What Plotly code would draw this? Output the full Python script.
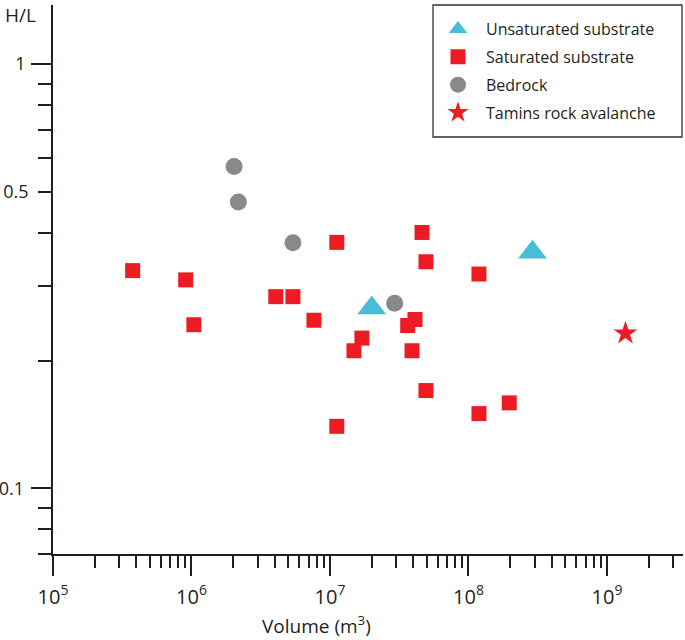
import plotly.graph_objects as go

# ---- data ----
unsat_vol = [2.0e7, 2.9e8]
unsat_hl = [0.266, 0.360]

sat_vol = [3.76e5, 9.08e5, 1.04e6, 4.06e6, 5.4e6, 7.66e6, 1.12e7, 1.12e7, 1.49e7,
           1.70e7, 3.64e7, 4.11e7, 3.91e7, 4.62e7, 4.93e7, 4.93e7, 1.19e8, 1.19e8, 1.97e8]
sat_hl = [0.326, 0.310, 0.243, 0.283, 0.283, 0.249, 0.380, 0.140, 0.211,
          0.226, 0.242, 0.250, 0.211, 0.401, 0.342, 0.170, 0.320, 0.150, 0.159]

bed_vol = [2.03e6, 2.18e6, 5.4e6, 2.93e7]
bed_hl = [0.574, 0.473, 0.379, 0.273]

tamins_vol = [1.36e9]
tamins_hl = [0.232]

x_major = [1e5, 1e6, 1e7, 1e8, 1e9]
x_labels = ["10<sup>5</sup>", "10<sup>6</sup>", "10<sup>7</sup>", "10<sup>8</sup>", "10<sup>9</sup>"]
y_ticks = [0.07, 0.08, 0.09, 0.1, 0.2, 0.3, 0.4, 0.5, 0.6, 0.7, 0.8, 0.9, 1.0]
y_labels = ["", "", "", "0.1\u2005", "", "", "", "0.5", "", "", "", "", "1\u2009"]
y_long = [0.1, 1.0]

RED = "#ED1C24"
BLUE = "#47BED6"
GRAY = "#898989"
INK = "#231F20"
FONT = "Open Sans"

x_minor = [m * 10 ** e for e in range(5, 10) for m in range(2, 10) if m * 10 ** e < 3.6e9]

fig = go.Figure()
fig.add_trace(go.Scatter(x=unsat_vol, y=unsat_hl, mode="markers", name="Unsaturated substrate",
                         legendgroup="a",
                         marker=dict(symbol="triangle-up", size=25, color=BLUE)))
fig.add_trace(go.Scatter(x=sat_vol, y=sat_hl, mode="markers", name="Saturated substrate",
                         legendgroup="b",
                         marker=dict(symbol="square", size=15, color=RED)))
fig.add_trace(go.Scatter(x=bed_vol, y=bed_hl, mode="markers", name="Bedrock",
                         legendgroup="c",
                         marker=dict(symbol="circle", size=17, color=GRAY)))
fig.add_trace(go.Scatter(x=tamins_vol, y=tamins_hl, mode="markers", name="Tamins rock avalanche",
                         legendgroup="d",
                         marker=dict(symbol="star", size=18, color=RED)))

fig.update_layout(
    width=685, height=640,
    margin=dict(l=53, r=2, t=5, b=86, autoexpand=False),
    paper_bgcolor="white", plot_bgcolor="white",
    font=dict(family=FONT, color=INK),
    showlegend=True,
    legend=dict(x=0.5984, y=0.987, xanchor="left", yanchor="top",
                borderwidth=0, bgcolor="rgba(0,0,0,0)",
                font=dict(family=FONT, size=16, color=INK),
                traceorder="grouped", tracegroupgap=4, itemwidth=46),
    xaxis=dict(type="log", range=[5, 9.549], showgrid=False, zeroline=False, automargin=False,
               showline=True, linecolor=INK, linewidth=1.5,
               ticks="outside", ticklen=20, tickwidth=1.5, tickcolor=INK,
               tickvals=x_major, ticktext=x_labels, ticklabelstandoff=4,
               tickfont=dict(family=FONT, size=20, color=INK),
               minor=dict(tickvals=x_minor, ticks="outside", ticklen=12, tickwidth=1.5,
                          tickcolor=INK, showgrid=False)),
    yaxis=dict(type="log", range=[-1.1549, 0.1394], showgrid=False, zeroline=False, automargin=False,
               showline=True, linecolor=INK, linewidth=1.5,
               ticks="outside", ticklen=13, tickwidth=1.5, tickcolor=INK,
               tickvals=y_ticks, ticktext=y_labels, ticklabelstandoff=6,
               tickfont=dict(family=FONT, size=18, color=INK),
               minor=dict(tickvals=y_long, ticks="outside", ticklen=20, tickwidth=1.5,
                          tickcolor=INK, showgrid=False)),
    shapes=[
        dict(type="rect", xref="paper", yref="paper", x0=0.6032, x1=0.9984, y0=0.7596, y1=1.0,
             line=dict(color="#333333", width=1.3), fillcolor="rgba(0,0,0,0)", layer="above"),
    ],
    annotations=[
        dict(text="H/L", xref="paper", yref="paper", x=-0.08, y=1.009, xanchor="left",
             yanchor="top", showarrow=False, font=dict(family=FONT, size=19, color=INK)),
        dict(text="Volume (m<sup>3</sup>)", xref="paper", yref="paper", x=0.419, y=-0.1,
             xanchor="center", yanchor="top", showarrow=False,
             font=dict(family=FONT, size=19, color=INK)),
    ],
)

fig.write_html("out.html", config={"displayModeBar": False},
               post_script="document.body.style.margin='0px';")
